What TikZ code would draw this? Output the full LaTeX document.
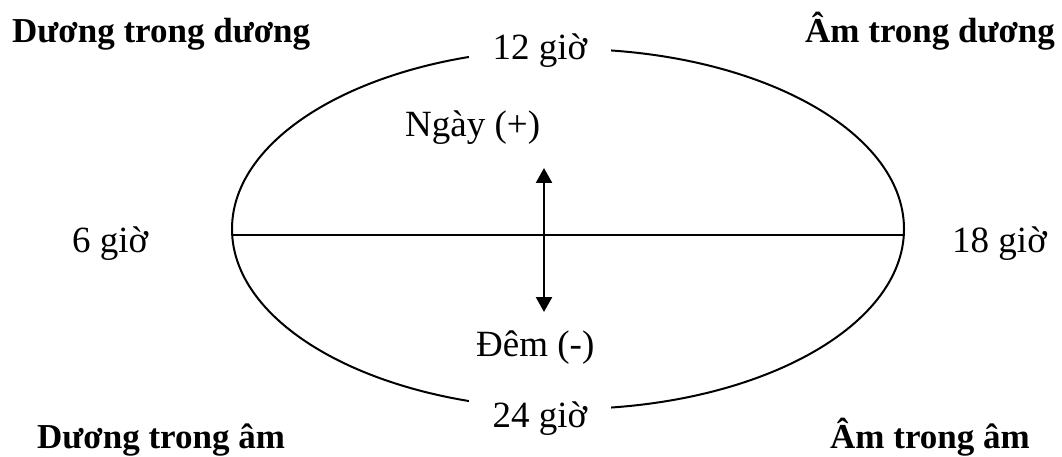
\documentclass[tikz,border=0pt]{standalone}
\usepackage{fontspec}
\setmainfont{Liberation Serif}
\usetikzlibrary{arrows.meta}
\begin{document}
\begin{tikzpicture}[x=1pt,y=-1pt,
  lbl/.style={inner sep=0pt,anchor=base west,font=\fontsize{37}{40}\selectfont},
  corner/.style={inner sep=0pt,anchor=base west,font=\fontsize{35}{40}\selectfont\bfseries},
  gap/.style={inner xsep=24pt,inner ysep=8pt,fill=white,anchor=base,font=\fontsize{37}{40}\selectfont},
  line/.style={line width=2pt}]
\useasboundingbox (0,0) rectangle (1062,457);
\draw[line] (568,229) ellipse [x radius=336, y radius=180];
\coordinate (L) at (232,235);
\coordinate (R) at (904,235);
\draw[line] (L) -- (R);
\node[gap] (t12) at (540,60) {12 giờ};
\node[gap] (t24) at (540,427) {24 giờ};
\node[lbl] (t6) at (72,252) {6 giờ};
\node[lbl] (t18) at (952,252) {18 giờ};
\node[lbl] (day) at (405,137) {Ngày (+)};
\node[lbl] (night) at (476,356) {Đêm (-)};
\coordinate (aT) at (544,168);
\coordinate (aB) at (544,312);
\draw[line width=2.5pt,{Triangle[length=15pt,width=16pt]}-{Triangle[length=15pt,width=16pt]}] (aT) -- (aB);
\node[corner] (c1) at (12,43) {Dương trong dương};
\node[corner] (c2) at (805,43) {Âm trong dương};
\node[corner] (c3) at (37,448) {Dương trong âm};
\node[corner] (c4) at (830,448) {Âm trong âm};
\end{tikzpicture}
\end{document}
